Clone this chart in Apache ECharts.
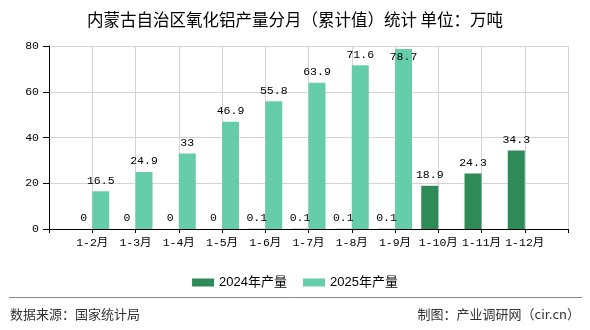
<!DOCTYPE html>
<html>
<head>
<meta charset="utf-8">
<script src="https://cdn.jsdelivr.net/npm/echarts@6/dist/echarts.min.js"></script>
<style>
html,body{margin:0;padding:0;background:#fff;}
#c{width:590px;height:330px;}
</style>
</head>
<body>
<div id="c"></div>
<script>
var categories = ["1-2月","1-3月","1-4月","1-5月","1-6月","1-7月","1-8月","1-9月","1-10月","1-11月","1-12月"];
var values2024 = [0,0,0,0,0.1,0.1,0.1,0.1,18.9,24.3,34.3];
var values2025 = [16.5,24.9,33,46.9,55.8,63.9,71.6,78.7,null,null,null];
var seriesNames = ["2024年产量","2025年产量"];
var yTicks = [0,20,40,60,80];

var numFont = "'Liberation Mono','Noto Sans CJK SC',monospace";
var cats = [""].concat(categories).concat([""]);
function pad(arr, topMax){
  var out = [null];
  arr.forEach(function(v){
    if (v === null) { out.push(null); return; }
    if (v > topMax) out.push({value: v, label: {position: 'insideTop', distance: 2}});
    else out.push(v);
  });
  out.push(null);
  return out;
}
var chart = echarts.init(document.getElementById('c'));
chart.setOption({
  animation: false,
  title: {
    text: '内蒙古自治区氧化铝产量分月（累计值）统计 单位：万吨',
    left: 'center', top: 6,
    textStyle: {fontFamily: "'Noto Sans CJK SC'", fontSize: 16.5, fontWeight: 'normal', color: '#000'}
  },
  legend: {
    top: 271, left: 'center',
    itemWidth: 22, itemHeight: 8, itemGap: 16,
    icon: 'rect',
    textStyle: {fontFamily: "'Liberation Sans','Noto Sans CJK SC'", fontSize: 13, color: '#000'},
    data: seriesNames
  },
  grid: {left: 49, right: 22, top: 46, bottom: 101, containLabel: false},
  xAxis: {
    type: 'category', data: cats, boundaryGap: false,
    axisLine: {lineStyle: {color: '#000', width: 1}},
    axisTick: {show: true, length: 4, lineStyle: {color: '#000'}},
    axisLabel: {color: '#000', fontFamily: numFont, fontSize: 11.5, margin: 8, interval: 0},
    splitLine: {show: true, lineStyle: {color: '#d4d4d4'}}
  },
  yAxis: {
    type: 'value', min: yTicks[0], max: yTicks[yTicks.length-1], interval: 20,
    axisLine: {show: true, lineStyle: {color: '#000', width: 1}},
    axisTick: {show: true, length: 6, lineStyle: {color: '#000'}},
    axisLabel: {color: '#000', fontFamily: numFont, fontSize: 11.5, margin: 10},
    splitLine: {show: true, lineStyle: {color: '#d4d4d4'}}
  },
  series: [
    {
      name: seriesNames[0], type: 'bar', data: pad(values2024, 1000),
      barWidth: 17, barGap: '0%',
      itemStyle: {color: '#2E8B57'},
      label: {show: true, position: 'top', distance: 5, color: '#000', fontFamily: numFont, fontSize: 11.5}
    },
    {
      name: seriesNames[1], type: 'bar', data: pad(values2025, 75),
      barWidth: 17, barGap: '0%',
      itemStyle: {color: '#66CDAA'},
      label: {show: true, position: 'top', distance: 5, color: '#000', fontFamily: numFont, fontSize: 11.5}
    }
  ],
  graphic: [
    {type: 'line', shape: {x1: 9, y1: 297.5, x2: 582, y2: 297.5}, style: {stroke: '#888', lineWidth: 1}},
    {type: 'text', left: 10, top: 308, style: {text: '数据来源：国家统计局', fontFamily: "'Noto Sans CJK SC'", fontSize: 13, fill: '#333'}},
    {type: 'text', right: 10, top: 308, style: {text: '制图：产业调研网（cir.cn）', fontFamily: "'Noto Sans CJK SC'", fontSize: 13, fill: '#333'}}
  ]
});
</script>
</body>
</html>
